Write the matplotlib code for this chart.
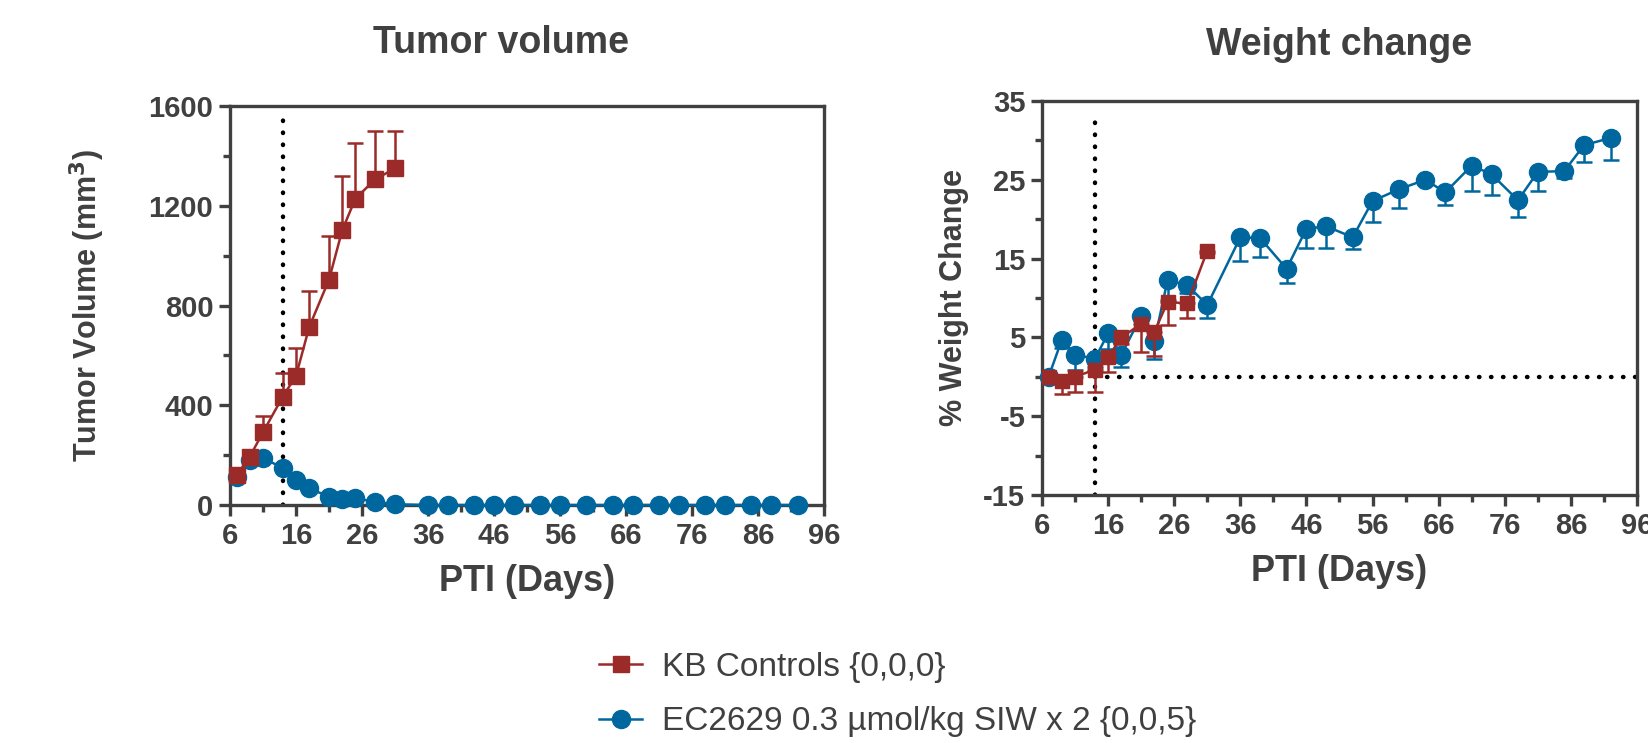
import numpy as np
import matplotlib.pyplot as plt
from matplotlib.ticker import MultipleLocator
from matplotlib.lines import Line2D

plt.rcParams['font.family'] = ['Liberation Sans', 'DejaVu Sans']
plt.rcParams['axes.unicode_minus'] = False

# дни после имплантации
days_ctrl = [7, 9, 11, 14, 16, 18, 21, 23, 25, 28, 31]
days_trt = [7, 9, 11, 14, 16, 18, 21, 23, 25, 28, 31, 36, 39, 43, 46, 49, 53,
            56, 60, 64, 67, 71, 74, 78, 81, 85, 88, 92]

# объем опухоли
vol_ctrl = [120, 194, 292, 435, 518, 714, 904, 1102, 1229, 1306, 1350]
vol_ctrl_err = [10, 24, 63, 96, 111, 144, 174, 217, 221, 192, 148]
vol_trt = [114, 181, 190, 147, 100, 67, 33, 24, 27, 13, 3, 0, 0, 0, 0, 0, 0,
           0, 0, 0, 0, 0, 0, 0, 0, 0, 0, 0]
vol_trt_err = [8, 10, 10, 8, 8, 6, 4, 3, 3, 2, 1, 0, 0, 0, 0, 0, 0,
               0, 0, 0, 0, 0, 0, 0, 0, 0, 0, 0]

# изменение веса
wt_ctrl = [0.0, -0.5, 0.0, 0.9, 2.5, 5.0, 6.7, 5.7, 9.5, 9.3, 16.0]
wt_ctrl_err = [0.3, 1.7, 1.9, 2.8, 1.9, 0.8, 3.6, 3.0, 2.9, 1.9, 0.3]
wt_trt = [0.0, 4.7, 2.8, 2.3, 5.5, 2.8, 7.7, 4.5, 12.3, 11.6, 9.1, 17.7, 17.6,
          13.7, 18.8, 19.1, 17.7, 22.3, 23.8, 25.0, 23.4, 26.8, 25.7, 22.4,
          26.0, 26.1, 29.4, 30.3]
wt_trt_err = [0.3, 1.0, 2.0, 1.0, 2.0, 1.6, 1.7, 2.2, 2.5, 1.0, 1.7, 3.0, 2.4,
              1.8, 2.4, 2.7, 1.5, 2.7, 2.4, 0.5, 1.6, 3.2, 2.6, 2.1, 2.4, 0.9,
              2.2, 2.8]

label_ctrl = 'KB Controls {0,0,0}'
label_trt = 'EC2629 0.3 µmol/kg SIW x 2 {0,0,5}'

red = '#9b2b28'
blue = '#00679e'
grey = '#404040'

fig = plt.figure(figsize=(16.49, 7.43), dpi=100)
ax1 = fig.add_axes([0.1395, 0.3203, 0.3602, 0.537])
ax2 = fig.add_axes([0.6319, 0.3338, 0.3608, 0.5303])


def style(ax):
    for s in ax.spines.values():
        s.set_color(grey)
        s.set_linewidth(2.4)
    ax.set_xlim(6, 96)
    ax.set_xticks(range(6, 97, 10))
    ax.set_xticks(range(11, 96, 10), minor=True)
    ax.tick_params(which='both', direction='out', colors=grey, width=2.4,
                   labelsize=21, pad=4)
    ax.tick_params(which='major', length=8)
    ax.tick_params(which='minor', length=5)
    for lab in ax.get_xticklabels() + ax.get_yticklabels():
        lab.set_fontweight('bold')
    ax.set_xlabel('PTI (Days)', fontsize=26, fontweight='bold', color=grey,
                  labelpad=10)


def series(ax, x, y, err, upper, color, marker, ms, z=3):
    err = np.array(err)
    zero = np.zeros_like(err)
    yerr = [zero, err] if upper else [err, zero]
    ax.errorbar(x, y, yerr=yerr, color=color, marker=marker, markersize=ms,
                linewidth=1.8, elinewidth=1.8, capsize=6, capthick=1.8,
                zorder=z, clip_on=False)


# Tumor volume
ax1.plot([14, 14], [0, 1580], color='black', linestyle=(0, (0.1, 2.6)),
         linewidth=3.2, dash_capstyle='round', zorder=2)
series(ax1, days_trt, vol_trt, vol_trt_err, True, blue, 'o', 13, 3)
series(ax1, days_ctrl, vol_ctrl, vol_ctrl_err, True, red, 's', 11, 4)
ax1.set_ylim(0, 1600)
ax1.yaxis.set_major_locator(MultipleLocator(400))
ax1.yaxis.set_minor_locator(MultipleLocator(200))
style(ax1)
ax1.set_ylabel('Tumor Volume (mm$^\\mathbf{3}$)', fontsize=22,
               fontweight='bold', color=grey, labelpad=30)
ax1.set_title('Tumor volume', fontsize=27, fontweight='bold', color=grey,
              pad=38, x=0.457)

# Weight change
ax2.plot([14, 14], [-15, 33.5], color='black', linestyle=(0, (0.1, 2.6)),
         linewidth=3.2, dash_capstyle='round', zorder=2)
ax2.plot([14, 96], [0, 0], color='black', linestyle=(0, (0.1, 2.6)),
         linewidth=3.2, dash_capstyle='round', zorder=2)
series(ax2, days_trt, wt_trt, wt_trt_err, False, blue, 'o', 13, 3)
series(ax2, days_ctrl, wt_ctrl, wt_ctrl_err, False, red, 's', 10, 4)
ax2.set_ylim(-15, 35)
ax2.set_yticks([-15, -5, 5, 15, 25, 35])
ax2.set_yticks([-10, 0, 10, 20, 30], minor=True)
style(ax2)
ax2.set_ylabel('% Weight Change', fontsize=22, fontweight='bold', color=grey,
               labelpad=10)
ax2.set_title('Weight change', fontsize=27, fontweight='bold', color=grey,
              pad=33)

handles = [Line2D([], [], color=red, marker='s', markersize=11, linewidth=1.8),
           Line2D([], [], color=blue, marker='o', markersize=13, linewidth=1.8)]
leg = fig.legend(handles, [label_ctrl, label_trt], loc='upper left',
                 bbox_to_anchor=(0.345, 0.163), frameon=False, fontsize=24,
                 handlelength=1.3, labelspacing=0.7, handletextpad=0.6)
for t in leg.get_texts():
    t.set_color(grey)

fig.savefig('out.png', dpi=100)
